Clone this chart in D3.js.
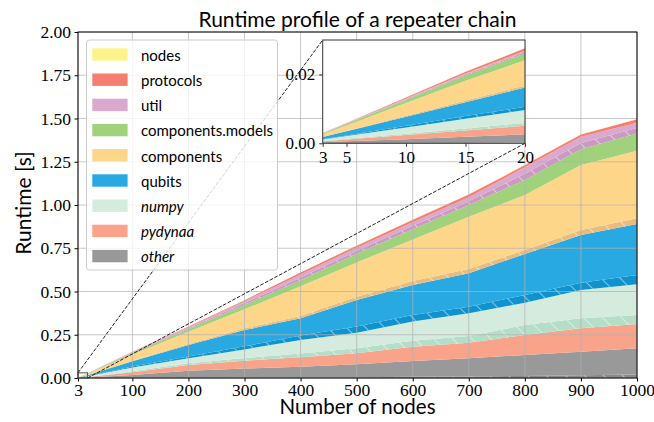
<!DOCTYPE html>
<html>
<head>
<meta charset="utf-8">
<script src="https://cdn.jsdelivr.net/npm/d3@7"></script>
<style>
body { margin: 0; background: #fff; }
svg { display: block; }
</style>
</head>
<body>
<svg id="chart" width="654" height="422"></svg>
<script>
// number of nodes in the chain
var nodeCounts = [3, 5, 10, 15, 20, 100, 200, 300, 400, 500, 600, 700, 800, 900, 1000];

// runtime per module [s], bottom of the stack first ("H" = hatched part)
var otherH      = [0.00002, 0.00004, 0.0001, 0.0001, 0.0002, 0.001, 0.002, 0.003, 0.004, 0.005, 0.007, 0.009, 0.012, 0.016, 0.020];
var other       = [0.00028, 0.00056, 0.0011, 0.0018, 0.0024, 0.017, 0.040, 0.052, 0.061, 0.074, 0.091, 0.105, 0.121, 0.136, 0.152];
var pydynaa     = [0.0003, 0.0005, 0.0012, 0.0018, 0.0025, 0.015, 0.033, 0.045, 0.055, 0.064, 0.083, 0.090, 0.116, 0.135, 0.140];
var numpyH      = [0.0001, 0.0002, 0.0004, 0.0006, 0.0008, 0.006, 0.010, 0.015, 0.022, 0.029, 0.035, 0.039, 0.057, 0.058, 0.052];
var numpy       = [0.0004, 0.0008, 0.0018, 0.0028, 0.0038, 0.021, 0.029, 0.050, 0.078, 0.090, 0.110, 0.131, 0.129, 0.164, 0.178];
var qubitsH     = [0.0001, 0.0002, 0.0005, 0.0008, 0.0009, 0.006, 0.011, 0.018, 0.025, 0.035, 0.038, 0.038, 0.045, 0.042, 0.053];
var qubits      = [0.0006, 0.0012, 0.0026, 0.0040, 0.0056, 0.031, 0.066, 0.094, 0.100, 0.154, 0.174, 0.193, 0.237, 0.276, 0.295];
var componentsH = [0.0001, 0.0001, 0.0003, 0.0005, 0.0006, 0.003, 0.006, 0.010, 0.013, 0.019, 0.022, 0.025, 0.023, 0.028, 0.033];
var components  = [0.0007, 0.0016, 0.0037, 0.0058, 0.0073, 0.036, 0.071, 0.110, 0.172, 0.198, 0.240, 0.302, 0.318, 0.376, 0.391];
var models      = [0.0002, 0.0004, 0.0009, 0.0015, 0.0020, 0.008, 0.014, 0.026, 0.035, 0.050, 0.060, 0.068, 0.087, 0.091, 0.100];
var utilH       = [0.00005, 0.0001, 0.0002, 0.0003, 0.0004, 0.003, 0.006, 0.010, 0.016, 0.017, 0.020, 0.022, 0.036, 0.036, 0.031];
var util        = [0.00005, 0.0001, 0.0002, 0.0003, 0.0004, 0.003, 0.006, 0.010, 0.017, 0.018, 0.020, 0.023, 0.037, 0.037, 0.031];
var protocols   = [0.0001, 0.0001, 0.0003, 0.0005, 0.0007, 0.002, 0.004, 0.007, 0.012, 0.012, 0.015, 0.015, 0.013, 0.013, 0.019];
var nodes       = [0.00001, 0.00001, 0.00002, 0.00003, 0.00004, 0.0002, 0.0003, 0.0004, 0.0005, 0.0006, 0.0007, 0.0008, 0.001, 0.001, 0.002];

var xTicks = [3, 100, 200, 300, 400, 500, 600, 700, 800, 900, 1000];
var yTicks = [0, 0.25, 0.5, 0.75, 1, 1.25, 1.5, 1.75, 2];
var insetXTicks = [3, 5, 10, 15, 20];
var insetYTicks = [0, 0.02];

var layers = [
    { key: "otherH", values: otherH, color: "#8b8b8b", hatch: true },
    { key: "other", values: other, color: "#999999" },
    { key: "pydynaa", values: pydynaa, color: "#f9a38a" },
    { key: "numpyH", values: numpyH, color: "#b4dec7", hatch: true },
    { key: "numpy", values: numpy, color: "#d5ebdd" },
    { key: "qubitsH", values: qubitsH, color: "#0f93cf", hatch: true },
    { key: "qubits", values: qubits, color: "#29a9e1" },
    { key: "componentsH", values: componentsH, color: "#e9bb7c", hatch: true },
    { key: "components", values: components, color: "#fed689" },
    { key: "models", values: models, color: "#9fd27b" },
    { key: "utilH", values: utilH, color: "#ca9ac2", hatch: true },
    { key: "util", values: util, color: "#dba8d0" },
    { key: "protocols", values: protocols, color: "#f47f71" },
    { key: "nodes", values: nodes, color: "#fcf38b" }
];

var legendItems = [
    { label: "nodes", color: "#fcf38b" },
    { label: "protocols", color: "#f47f71" },
    { label: "util", color: "#dba8d0" },
    { label: "components.models", color: "#9fd27b" },
    { label: "components", color: "#fed689" },
    { label: "qubits", color: "#29a9e1" },
    { label: "numpy", color: "#d5ebdd", italic: true },
    { label: "pydynaa", color: "#f9a38a", italic: true },
    { label: "other", color: "#999999", italic: true }
];

var sans = "Lato, 'Open Sans', sans-serif";
var serif = "'Liberation Serif', 'DejaVu Serif', serif";

var svg = d3.select("#chart");
var defs = svg.append("defs");

// diagonal white hatch
defs.append("pattern").attr("id", "hatch")
    .attr("patternUnits", "userSpaceOnUse")
    .attr("width", 19).attr("height", 19)
    .append("path")
    .attr("d", "M0,0L19,19M-5,14L5,24M14,-5L24,5")
    .attr("stroke", "#fff").attr("stroke-opacity", 0.45)
    .attr("stroke-width", 1.1).attr("fill", "none");

var rows = nodeCounts.map(function(n, i) {
    var row = { n: n };
    layers.forEach(function(l) { row[l.key] = l.values[i]; });
    return row;
});
var stacked = d3.stack().keys(layers.map(function(l) { return l.key; }))(rows);

function drawStack(g, x, y, clipId) {
    var area = d3.area()
        .x(function(d) { return x(d.data.n); })
        .y0(function(d) { return y(d[0]); })
        .y1(function(d) { return y(d[1]); });
    var sg = g.append("g").attr("clip-path", "url(#" + clipId + ")");
    stacked.forEach(function(s, i) {
        var l = layers[i];
        sg.append("path").attr("d", area(s)).attr("fill", l.color);
        if (l.hatch) {
            sg.append("path").attr("d", area(s)).attr("fill", "url(#hatch)");
        }
    });
}

function clip(id, x0, y0, w, h) {
    defs.append("clipPath").attr("id", id)
        .append("rect").attr("x", x0).attr("y", y0).attr("width", w).attr("height", h);
}

// main axes
var mLeft = 78, mRight = 637, mTop = 32, mBottom = 378;
var x = d3.scaleLinear().domain([3, 1000]).range([mLeft, mRight]);
var y = d3.scaleLinear().domain([0, 2]).range([mBottom, mTop]);
clip("mainClip", mLeft, mTop, mRight - mLeft, mBottom - mTop);

drawStack(svg, x, y, "mainClip");

// grid on top of the fills
var grid = svg.append("g").attr("stroke", "#b0b0b0").attr("stroke-opacity", 0.7)
    .attr("stroke-width", 1);
xTicks.forEach(function(t) {
    grid.append("line").attr("x1", x(t)).attr("x2", x(t)).attr("y1", mTop).attr("y2", mBottom);
});
yTicks.forEach(function(t) {
    grid.append("line").attr("x1", mLeft).attr("x2", mRight).attr("y1", y(t)).attr("y2", y(t));
});

var xAxis = svg.append("g").attr("transform", "translate(0," + mBottom + ")")
    .call(d3.axisBottom(x).tickValues(xTicks).tickSize(3.5).tickPadding(2.5)
        .tickFormat(d3.format("d")));
var yAxis = svg.append("g").attr("transform", "translate(" + mLeft + ",0)")
    .call(d3.axisLeft(y).tickValues(yTicks).tickSize(3.5).tickPadding(3.5)
        .tickFormat(d3.format(".2f")));
[xAxis, yAxis].forEach(function(a) {
    a.select(".domain").remove();
    a.selectAll("text").attr("font-family", serif).attr("font-size", 17.5).attr("fill", "#000");
    a.selectAll("line").attr("stroke", "#000");
});

svg.append("rect").attr("x", mLeft).attr("y", mTop)
    .attr("width", mRight - mLeft).attr("height", mBottom - mTop)
    .attr("fill", "none").attr("stroke", "#000").attr("stroke-width", 1);

// inset
var iLeft = 322.7, iRight = 525, iTop = 40, iBottom = 143.3;
var ix = d3.scaleLinear().domain([3, 20]).range([iLeft, iRight]);
var iy = d3.scaleLinear().domain([0, 0.03]).range([iBottom, iTop]);

// zoom box and connectors
svg.append("rect").attr("x", x(3)).attr("y", y(0.03))
    .attr("width", x(20) - x(3)).attr("height", y(0) - y(0.03))
    .attr("fill", "none").attr("stroke", "#555").attr("stroke-width", 1);
var conn = svg.append("g").attr("stroke", "#222").attr("stroke-width", 1)
    .attr("stroke-dasharray", "3.7,1.6");
conn.append("line").attr("x1", x(3)).attr("y1", y(0.03)).attr("x2", iLeft).attr("y2", iTop);
conn.append("line").attr("x1", x(20)).attr("y1", y(0)).attr("x2", iRight).attr("y2", iBottom);

var inset = svg.append("g");
inset.append("rect").attr("x", iLeft).attr("y", iTop)
    .attr("width", iRight - iLeft).attr("height", iBottom - iTop).attr("fill", "#fff");
clip("insetClip", iLeft, iTop, iRight - iLeft, iBottom - iTop);
drawStack(inset, ix, iy, "insetClip");

var ixAxis = inset.append("g").attr("transform", "translate(0," + iBottom + ")")
    .call(d3.axisBottom(ix).tickValues(insetXTicks).tickSize(3.5).tickPadding(4)
        .tickFormat(d3.format("d")));
var iyAxis = inset.append("g").attr("transform", "translate(" + iLeft + ",0)")
    .call(d3.axisLeft(iy).tickValues(insetYTicks).tickSize(3.5).tickPadding(4)
        .tickFormat(d3.format(".2f")));
[ixAxis, iyAxis].forEach(function(a) {
    a.select(".domain").remove();
    a.selectAll("text").attr("font-family", serif).attr("font-size", 17).attr("fill", "#000");
    a.selectAll("line").attr("stroke", "#333");
});
inset.append("rect").attr("x", iLeft).attr("y", iTop)
    .attr("width", iRight - iLeft).attr("height", iBottom - iTop)
    .attr("fill", "none").attr("stroke", "#333").attr("stroke-width", 1);

// legend
var lg = svg.append("g");
lg.append("rect").attr("x", 86.5).attr("y", 40).attr("width", 191).attr("height", 230)
    .attr("rx", 3).attr("fill", "#fff").attr("fill-opacity", 0.8)
    .attr("stroke", "#cccccc").attr("stroke-width", 1);
legendItems.forEach(function(d, i) {
    var cy = 54.5 + i * 25.2;
    lg.append("rect").attr("x", 92.3).attr("y", cy - 6.2)
        .attr("width", 35.3).attr("height", 12.4).attr("fill", d.color);
    lg.append("text").attr("x", 141).attr("y", cy + 6.2)
        .attr("font-family", sans).attr("font-size", 15)
        .attr("font-style", d.italic ? "italic" : "normal")
        .attr("fill", "#000").text(d.label);
});

// titles
svg.append("text").attr("x", (mLeft + mRight) / 2).attr("y", 26.5)
    .attr("text-anchor", "middle").attr("font-family", sans).attr("font-size", 21)
    .text("Runtime profile of a repeater chain");
svg.append("text").attr("x", (mLeft + mRight) / 2).attr("y", 414)
    .attr("text-anchor", "middle").attr("font-family", sans).attr("font-size", 20.5)
    .text("Number of nodes");
svg.append("text").attr("transform", "translate(30.5,203) rotate(-90)")
    .attr("text-anchor", "middle").attr("font-family", sans).attr("font-size", 21)
    .text("Runtime [s]");
</script>
</body>
</html>
